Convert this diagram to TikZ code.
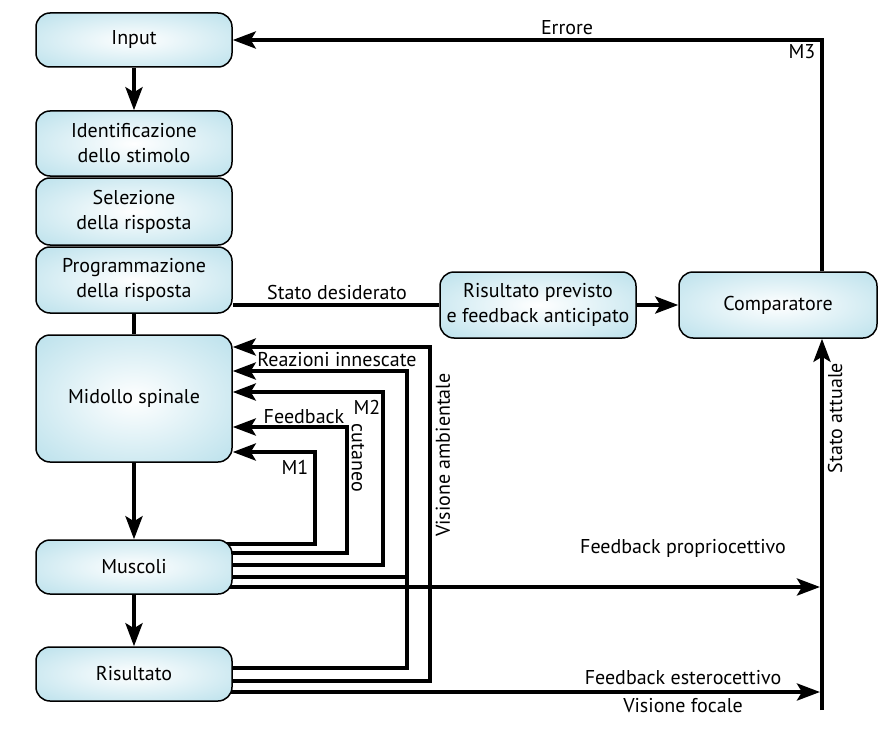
\documentclass[tikz,border=0pt]{standalone}
\usepackage{fontspec}
\setmainfont{PT Sans}
\usetikzlibrary{arrows.meta,positioning,backgrounds}
\definecolor{boxblue}{RGB}{160,213,228}
\pgfdeclareradialshading{boxshade}{\pgfpointorigin}{color(0bp)=(white); color(50bp)=(boxblue); color(75bp)=(boxblue)}
\begin{document}
\begin{tikzpicture}[x=1pt,y=-1pt,font=\fontsize{20}{25}\selectfont,
  box/.style={draw,line width=1.5pt,rounded corners=14pt,shading=boxshade,align=center,minimum width=196pt,inner sep=2pt},
  arr/.style={line width=4pt,-{Stealth[length=23pt,width=17pt,inset=5pt]}},
  ln/.style={line width=4pt},
  lbl/.style={inner sep=1pt}]
  \useasboundingbox (0,0) rectangle (890,738);
  % left column
  \node[box,minimum height=54pt] (input) at (134,40) {Input};
  \node[box,minimum height=65pt] (ident) at (134,143.5) {Identificazione\\dello stimolo};
  \node[box,minimum height=67pt] (selez) at (134,211.5) {Selezione\\della risposta};
  \node[box,minimum height=66pt] (progr) at (134,280) {Programmazione\\della risposta};
  \node[box,minimum height=127pt] (midollo) at (134,398.5) {Midollo spinale};
  \node[box,minimum height=54pt] (muscoli) at (134,567) {Muscoli};
  \node[box,minimum height=54pt] (risultato) at (134,674) {Risultato};
  % right side
  \node[box,minimum height=66pt] (previsto) at (538,305) {Risultato previsto\\e feedback anticipato};
  \node[box,minimum height=66pt,minimum width=198pt] (compar) at (778,305) {Comparatore};
  \coordinate (errc) at (822,40);
  \coordinate (attbase) at (822,710);

  \draw[arr] (input) -- (ident);
  \draw[ln] (progr) -- (midollo);
  \draw[arr] (midollo) -- (muscoli);
  \draw[arr] (muscoli) -- (risultato);
  \draw[ln] (progr.east |- previsto.west) -- (previsto.west);
  \draw[arr] (previsto) -- (compar);
  \draw[arr] (compar.north -| errc) -- (errc) -- (input.east);
  \draw[arr] (attbase) -- (compar.south -| attbase);

  % feedback loops
  \begin{scope}[on background layer]
    \draw[arr] (risultato.center |- 0,681) -| (430,347) -- (midollo.east |- 0,347);
    \draw[arr] (risultato.center |- 0,668) -| (407,371) -- (midollo.east |- 0,371);
    \draw[ln] (muscoli.center |- 0,577) -- (407,577);
    \draw[arr] (muscoli.center |- 0,565) -| (383,392) -- (midollo.east |- 0,392);
    \draw[arr] (muscoli.center |- 0,553) -| (347,427) -- (midollo.east |- 0,427);
    \draw[arr] (muscoli.center |- 0,544) -| (315,452) -- (midollo.east |- 0,452);
    \draw[arr,shorten >=2pt] (muscoli.center |- 0,587) -- (attbase |- 0,587);
    \draw[arr,shorten >=2pt] (risultato.center |- 0,692) -- (attbase |- 0,692);
  \end{scope}

  % labels
  \node[lbl] (desid) at (337,292) {Stato desiderato};
  \node[lbl] (errore) at (567,28) {Errore};
  \node[lbl] (m3) at (802,52) {M3};
  \node[lbl,rotate=90] (attuale) at (835,418) {Stato attuale};
  \node[lbl] (reaz) at (337,360) {Reazioni innescate};
  \node[lbl] (m2) at (367,407) {M2};
  \node[lbl] (feedb) at (304,417) {Feedback};
  \node[lbl,rotate=-90] (cutan) at (358,458) {cutaneo};
  \node[lbl] (m1) at (295,467) {M1};
  \node[lbl,rotate=90] (visamb) at (443,455) {Visione ambientale};
  \node[lbl] (propr) at (683,548) {Feedback propriocettivo};
  \node[lbl] (ester) at (683,678) {Feedback esterocettivo};
  \node[lbl] (focale) at (683,706) {Visione focale};
\end{tikzpicture}
\end{document}
